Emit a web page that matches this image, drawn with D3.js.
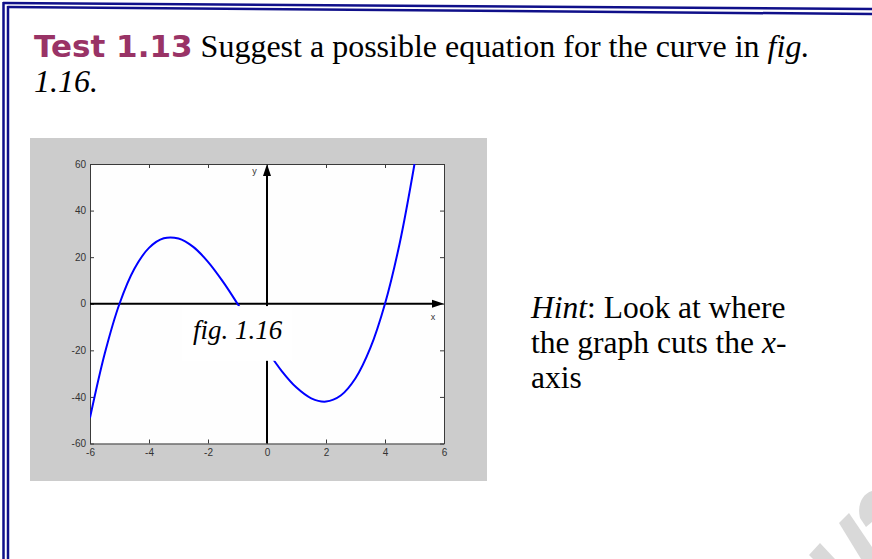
<!DOCTYPE html>
<html>
<head>
<meta charset="utf-8">
<script src="https://cdn.jsdelivr.net/npm/d3@7"></script>
<style>
    html, body { margin: 0; padding: 0; background: #ffffff; }
    svg { display: block; }
</style>
</head>
<body>
<svg id="page" width="872" height="559"></svg>
<script>
// values
const curveX = [-6, -5.5, -5, -4.5, -4, -3.5, -3, -2.5, -2, -1.5, -1, -0.5, 0, 0.5, 1, 1.5, 2, 2.5, 3, 3.5, 4, 4.5, 5];
const curveY = [-49, -21.4, 0, 14.9, 24, 28.1, 28, 24.4, 18, 9.6, 0, -10.1, -20, -28.9, -36, -40.6, -42, -39.4, -32, -19.1, 0, 26.1, 60];
const xTicks = [-6, -4, -2, 0, 2, 4, 6];
const yTicks = [-60, -40, -20, 0, 20, 40, 60];
const xDomain = [-6, 6];
const yDomain = [-60, 60];

const titleTag = 'Test 1.13';
const titleText = ' Suggest a possible equation for the curve in ';
const figRef = ['fig.', '1.16.'];
const figLabel = 'fig. 1.16';

const svg = d3.select('#page');
const serif = '"Liberation Serif", "Times New Roman", serif';
const sans = '"Liberation Sans", Arial, sans-serif';

// double blue frame round the page (scan is a little tilted)
const frameColor = '#10108a';
svg.append('line').attr('x1', 3).attr('y1', 3).attr('x2', 872).attr('y2', 9)
    .style('stroke', frameColor).style('stroke-width', '2.5px');
svg.append('line').attr('x1', 7.5).attr('y1', 7).attr('x2', 872).attr('y2', 14)
    .style('stroke', frameColor).style('stroke-width', '2.5px');
svg.append('line').attr('x1', 3.5).attr('y1', 2).attr('x2', 3.5).attr('y2', 559)
    .style('stroke', frameColor).style('stroke-width', '2.5px');
svg.append('line').attr('x1', 8).attr('y1', 6).attr('x2', 8).attr('y2', 559)
    .style('stroke', frameColor).style('stroke-width', '2.5px');

// title
let title = svg.append('text').attr('x', 34).attr('y', 57).style('fill', '#000');
title.append('tspan').text(titleTag)
    .style('font-family', '"DejaVu Sans", Verdana, sans-serif')
    .style('font-weight', 'bold').style('font-size', '31px').style('fill', '#993366');
title.append('tspan').text(titleText)
    .style('font-family', serif).style('font-size', '32px');
title.append('tspan').text(figRef[0])
    .style('font-family', serif).style('font-size', '32px').style('font-style', 'italic');
svg.append('text').attr('x', 34).attr('y', 92).text(figRef[1])
    .style('font-family', serif).style('font-size', '32px').style('font-style', 'italic');

// hint
const hint = svg.append('g').style('font-family', serif).style('font-size', '31.5px');
let h1 = hint.append('text').attr('x', 531).attr('y', 318);
h1.append('tspan').text('Hint').style('font-style', 'italic');
h1.append('tspan').text(': Look at where');
let h2 = hint.append('text').attr('x', 531).attr('y', 353);
h2.append('tspan').text('the graph cuts the ');
h2.append('tspan').text('x').style('font-style', 'italic');
h2.append('tspan').text('-');
hint.append('text').attr('x', 531).attr('y', 388).text('axis');

// grey figure panel
svg.append('rect').attr('x', 30).attr('y', 138).attr('width', 457).attr('height', 343)
    .style('fill', '#cccccc');

const x = d3.scaleLinear().domain(xDomain).range([90, 444]);
const y = d3.scaleLinear().domain(yDomain).range([443.5, 164]);

svg.append('rect')
    .attr('x', x(xDomain[0])).attr('y', y(yDomain[1]))
    .attr('width', x(xDomain[1]) - x(xDomain[0]))
    .attr('height', y(yDomain[0]) - y(yDomain[1]))
    .style('fill', '#fefefe');

// matlab style box with inward ticks
const tickColor = '#3a3a3a';
const plain = d => String(d);
function styleAxis (g) {
    g.selectAll('path, line').style('stroke', tickColor);
    g.selectAll('text').style('fill', '#333').style('font-family', sans).style('font-size', '10px');
}
svg.append('g').attr('transform', 'translate(0,' + y(yDomain[0]) + ')')
    .call(d3.axisBottom(x).tickValues(xTicks).tickFormat(plain).tickSizeInner(-4).tickSizeOuter(0).tickPadding(5))
    .call(styleAxis);
svg.append('g').attr('transform', 'translate(0,' + y(yDomain[1]) + ')')
    .call(d3.axisTop(x).tickValues(xTicks).tickSizeInner(-4).tickSizeOuter(0).tickFormat(''))
    .call(styleAxis);
svg.append('g').attr('transform', 'translate(' + x(xDomain[0]) + ',0)')
    .call(d3.axisLeft(y).tickValues(yTicks).tickFormat(plain).tickSizeInner(-4).tickSizeOuter(0).tickPadding(4))
    .call(styleAxis);
svg.append('g').attr('transform', 'translate(' + x(xDomain[1]) + ',0)')
    .call(d3.axisRight(y).tickValues(yTicks).tickSizeInner(-4).tickSizeOuter(0).tickFormat(''))
    .call(styleAxis);

// drawn coordinate axes with arrows
const ax = svg.append('g');
ax.append('line')
    .attr('x1', x(xDomain[0])).attr('x2', x(xDomain[1]) - 8)
    .attr('y1', y(0)).attr('y2', y(0))
    .style('stroke', '#000').style('stroke-width', '2px');
ax.append('polygon')
    .attr('points', [[x(xDomain[1]), y(0)], [x(xDomain[1]) - 12, y(0) - 4], [x(xDomain[1]) - 12, y(0) + 4]].join(' '))
    .style('fill', '#000');
ax.append('line')
    .attr('x1', x(0)).attr('x2', x(0))
    .attr('y1', y(yDomain[0])).attr('y2', y(yDomain[1]) + 8)
    .style('stroke', '#000').style('stroke-width', '2px');
ax.append('polygon')
    .attr('points', [[x(0), y(yDomain[1])], [x(0) - 4, y(yDomain[1]) + 12], [x(0) + 4, y(yDomain[1]) + 12]].join(' '))
    .style('fill', '#000');
ax.append('text').attr('x', x(5.55)).attr('y', y(-7)).text('x')
    .style('font-family', sans).style('font-size', '9px').style('fill', '#333');
ax.append('text').attr('x', x(-0.5)).attr('y', y(55.5)).text('y')
    .style('font-family', sans).style('font-size', '9px').style('fill', '#333');

// the curve
const pts = curveX.map((d, i) => [d, curveY[i]]);
svg.append('clipPath').attr('id', 'plotclip').append('rect')
    .attr('x', x(xDomain[0])).attr('y', y(yDomain[1]))
    .attr('width', x(xDomain[1]) - x(xDomain[0]))
    .attr('height', y(yDomain[0]) - y(yDomain[1]));
svg.append('path')
    .datum(pts)
    .attr('clip-path', 'url(#plotclip)')
    .attr('d', d3.line().x(d => x(d[0])).y(d => y(d[1])).curve(d3.curveCatmullRom))
    .style('fill', 'none').style('stroke', '#0000ff').style('stroke-width', '2px');

// label box pasted over the graph
svg.append('rect').attr('x', 182).attr('y', y(-1)).attr('width', 110).attr('height', y(-24.5) - y(-1))
    .style('fill', '#ffffff');
svg.append('text').attr('x', 193).attr('y', 339).text(figLabel)
    .style('font-family', serif).style('font-size', '27px').style('font-style', 'italic');

// bit of watermark in the corner
const wm = svg.append('g').style('fill', '#d9d9d9');
wm.append('polygon').attr('points', '809,555 820,543 835,559 813,559');
wm.append('polygon').attr('points', '839,523 849,513 872,547 872,559 861,559');
wm.append('path').attr('d', 'M872,491 C862,494 857,505 860,518 L866,527 L872,522 Z');
</script>
</body>
</html>
